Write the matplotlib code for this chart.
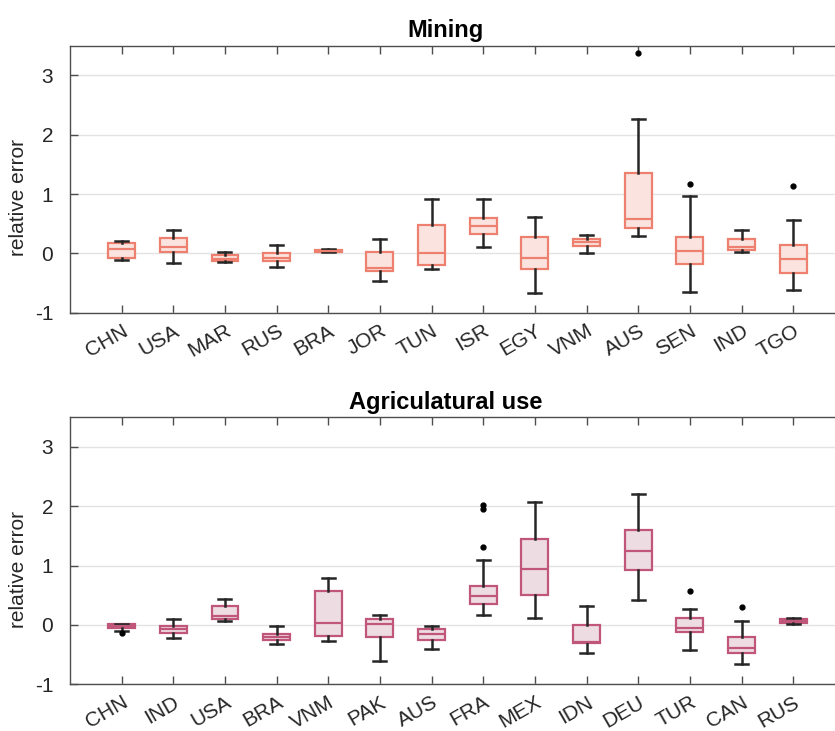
import matplotlib
matplotlib.use('Agg')
import matplotlib.pyplot as plt

plt.rcParams['font.family'] = ['Liberation Sans', 'DejaVu Sans']
plt.rcParams['axes.unicode_minus'] = False

# Mining: whisker low, q1, median, q3, whisker high, outliers
paises_min = ['CHN', 'USA', 'MAR', 'RUS', 'BRA', 'JOR', 'TUN', 'ISR', 'EGY', 'VNM', 'AUS', 'SEN', 'IND', 'TGO']
min_low = [-0.11, -0.16, -0.15, -0.23, 0.03, -0.47, -0.26, 0.11, -0.66, 0.01, 0.30, -0.65, 0.02, -0.62]
min_q1 = [-0.08, 0.02, -0.13, -0.135, 0.03, -0.29, -0.19, 0.33, -0.26, 0.12, 0.43, -0.175, 0.05, -0.33]
min_med = [0.07, 0.11, -0.09, -0.07, 0.045, -0.24, 0.01, 0.46, -0.07, 0.185, 0.585, 0.045, 0.10, -0.10]
min_q3 = [0.17, 0.26, -0.03, 0.0, 0.06, 0.02, 0.47, 0.60, 0.27, 0.25, 1.35, 0.28, 0.24, 0.135]
min_high = [0.21, 0.39, 0.03, 0.135, 0.07, 0.24, 0.91, 0.92, 0.61, 0.31, 2.26, 0.96, 0.40, 0.57]
min_out = [[], [], [], [], [], [], [], [], [], [], [3.37], [1.175], [], [1.14]]

# Agricultural use
paises_agr = ['CHN', 'IND', 'USA', 'BRA', 'VNM', 'PAK', 'AUS', 'FRA', 'MEX', 'IDN', 'DEU', 'TUR', 'CAN', 'RUS']
agr_low = [-0.095, -0.22, 0.067, -0.315, -0.27, -0.61, -0.41, 0.16, 0.12, -0.47, 0.42, -0.43, -0.65, 0.017]
agr_q1 = [-0.045, -0.13, 0.10, -0.26, -0.19, -0.197, -0.25, 0.35, 0.506, -0.31, 0.92, -0.12, -0.48, 0.034]
agr_med = [-0.01, -0.07, 0.146, -0.21, 0.034, 0.01, -0.15, 0.48, 0.94, -0.28, 1.25, -0.05, -0.39, 0.06]
agr_q3 = [0.017, -0.01, 0.32, -0.146, 0.57, 0.10, -0.06, 0.66, 1.455, 0.005, 1.60, 0.12, -0.21, 0.096]
agr_high = [0.02, 0.10, 0.44, -0.01, 0.79, 0.17, -0.01, 1.09, 2.07, 0.315, 2.20, 0.265, 0.06, 0.12]
agr_out = [[-0.14], [], [], [], [], [], [], [1.31, 1.96, 2.02], [], [], [], [0.57], [0.30], []]


def hacer_stats(low, q1, med, q3, high, out):
    stats = []
    for i in range(len(low)):
        stats.append({'whislo': low[i], 'q1': q1[i], 'med': med[i], 'q3': q3[i],
                      'whishi': high[i], 'fliers': out[i]})
    return stats


def dibujar(ax, stats, nombres, borde, relleno, titulo):
    ax.bxp(stats, positions=range(1, len(stats) + 1), widths=0.52, patch_artist=True,
           boxprops=dict(facecolor=relleno, edgecolor=borde, linewidth=1.6),
           medianprops=dict(color=borde, linewidth=1.6),
           whiskerprops=dict(color='#262626', linewidth=1.8),
           capprops=dict(color='#262626', linewidth=1.8),
           capwidths=0.25,
           flierprops=dict(marker='o', markersize=3.5, markerfacecolor='black',
                           markeredgecolor='black'),
           zorder=3)
    ax.set_xlim(0, 15)
    ax.set_ylim(-1, 3.5)
    ax.set_yticks([-1, 0, 1, 2, 3])
    ax.set_yticklabels(['-1', '0', '1', '2', '3'])
    ax.set_xticks(range(1, len(nombres) + 1))
    ax.set_xticklabels(nombres, rotation=30, ha='right', rotation_mode='anchor')
    ax.yaxis.grid(True, color='#e3e3e3', linewidth=1.0, zorder=0)
    ax.set_axisbelow(True)
    ax.tick_params(direction='in', length=6, width=1.0, color='#4d4d4d',
                   labelsize=15, labelcolor='#262626', top=True, right=False)
    ax.tick_params(axis='x', pad=6)
    ax.tick_params(axis='y', pad=12)
    for s in ax.spines.values():
        s.set_color('#4d4d4d')
        s.set_linewidth(1.0)
    ax.spines['right'].set_visible(False)
    ax.set_ylabel('relative error', fontsize=15, color='#262626')
    ax.yaxis.set_label_coords(-0.054, 0.43)
    ax.set_title(titulo, fontsize=17, fontweight='bold', pad=6, x=0.485)


fig = plt.figure(figsize=(8.35, 7.31), dpi=100)
ax1 = fig.add_axes([0.0838, 0.5722, 0.928, 0.3653])
ax2 = fig.add_axes([0.0838, 0.0639, 0.928, 0.3652])

dibujar(ax1, hacer_stats(min_low, min_q1, min_med, min_q3, min_high, min_out),
        paises_min, '#EE8070', '#FBE4E0', 'Mining')
dibujar(ax2, hacer_stats(agr_low, agr_q1, agr_med, agr_q3, agr_high, agr_out),
        paises_agr, '#C0577A', '#EEDCE3', 'Agriculatural use')

fig.savefig('out.png', dpi=100)
